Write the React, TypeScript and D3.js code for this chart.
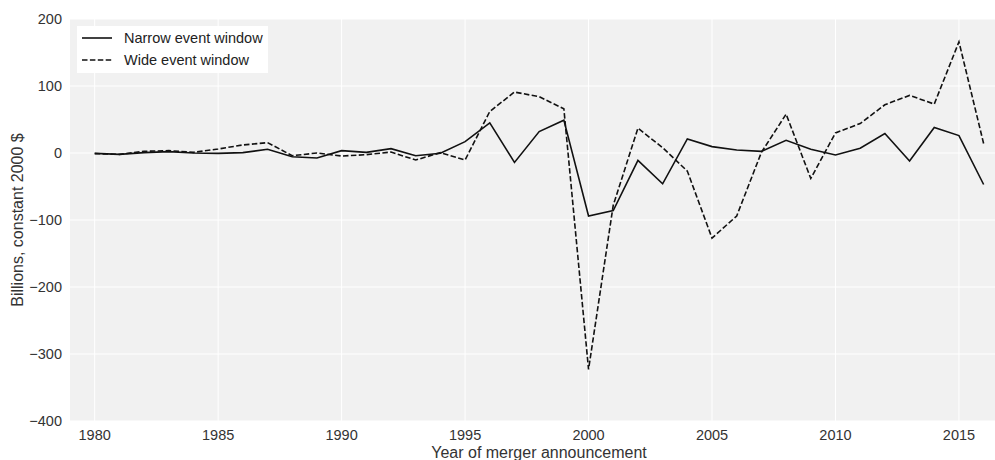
import React from "react";
import * as d3 from "d3";

const years: number[] = d3.range(1980, 2017);
const narrow: number[] = [
  -0.5, -2, 0.5, 2, 0, -0.5, 0.5, 5.5, -5.5, -7.5, 3.5, 1, 6.5, -4, -0.5, 17, 45, -14, 32, 49,
  -94, -86, -11, -46, 21, 9.5, 4.5, 2.5, 19, 5.5, -3, 7, 29, -12, 38, 26, -47,
];
const wide: number[] = [
  -1, -2, 2.5, 3.5, 1, 6, 12, 15.5, -4, 0, -4.5, -2.5, 1.5, -10.5, 0.5, -10.5, 62, 91, 84, 66,
  -323, -78, 37, 8, -27, -127, -94, 1, 58, -38, 30, 44, 72, 86, 73, 166, 14,
];
const xTicks: number[] = [1980, 1985, 1990, 1995, 2000, 2005, 2010, 2015];
const yTicks: number[] = [200, 100, 0, -100, -200, -300, -400];
const seriesNames: string[] = ["Narrow event window", "Wide event window"];

const W = 995;
const H = 460;
const left = 70;
const right = 995;
const top = 19;
const bottom = 421;

export default function App() {
  const x = d3.scaleLinear().domain([1979, 2016.46]).range([left, right]);
  const y = d3.scaleLinear().domain([-400, 200]).range([bottom, top]);
  const line = d3
    .line<number>()
    .x((_, i) => x(years[i]))
    .y((d) => y(d));
  const textColor = "#333333";
  const font = "'Liberation Sans', Arial, sans-serif";
  const fmt = (v: number) => (v < 0 ? "\u2212" + Math.abs(v) : String(v));
  return (
    <svg
      width={W}
      height={H}
      style={{ position: "absolute", left: 0, top: 0, background: "#fff" }}
      fontFamily={font}
    >
      <rect x={left} y={top} width={right - left} height={bottom - top} fill="#f1f1f1" />
      {xTicks.map((t) => (
        <line key={"gx" + t} x1={x(t)} x2={x(t)} y1={top} y2={bottom} stroke="#fff" strokeWidth={1} />
      ))}
      {yTicks.map((t) => (
        <line key={"gy" + t} x1={left} x2={right} y1={y(t)} y2={y(t)} stroke="#fff" strokeWidth={1} />
      ))}
      <path d={line(narrow) || ""} fill="none" stroke="#111" strokeWidth={1.6} />
      <path
        d={line(wide) || ""}
        fill="none"
        stroke="#111"
        strokeWidth={1.6}
        strokeDasharray="5.5,2.4"
      />
      {xTicks.map((t) => (
        <text key={"tx" + t} x={x(t)} y={440} textAnchor="middle" fontSize={14.5} fill={textColor}>
          {t}
        </text>
      ))}
      {yTicks.map((t) => (
        <text key={"ty" + t} x={62} y={y(t) + 5} textAnchor="end" fontSize={14.5} fill={textColor}>
          {fmt(t)}
        </text>
      ))}
      <text x={539} y={458} textAnchor="middle" fontSize={16} fill={textColor}>
        Year of merger announcement
      </text>
      <text
        transform={`translate(23,${(top + bottom) / 2}) rotate(-90)`}
        textAnchor="middle"
        fontSize={16}
        fill={textColor}
      >
        Billions, constant 2000 $
      </text>
      <g>
        <rect x={77} y={26} width={191} height={47} fill="#fff" />
        <line x1={82} x2={112} y1={38} y2={38} stroke="#111" strokeWidth={1.6} />
        <line x1={82} x2={112} y1={60} y2={60} stroke="#111" strokeWidth={1.6} strokeDasharray="5.5,2.4" />
        <text x={124} y={43} fontSize={14.5} fill="#222">
          {seriesNames[0]}
        </text>
        <text x={124} y={65} fontSize={14.5} fill="#222">
          {seriesNames[1]}
        </text>
      </g>
    </svg>
  );
}
